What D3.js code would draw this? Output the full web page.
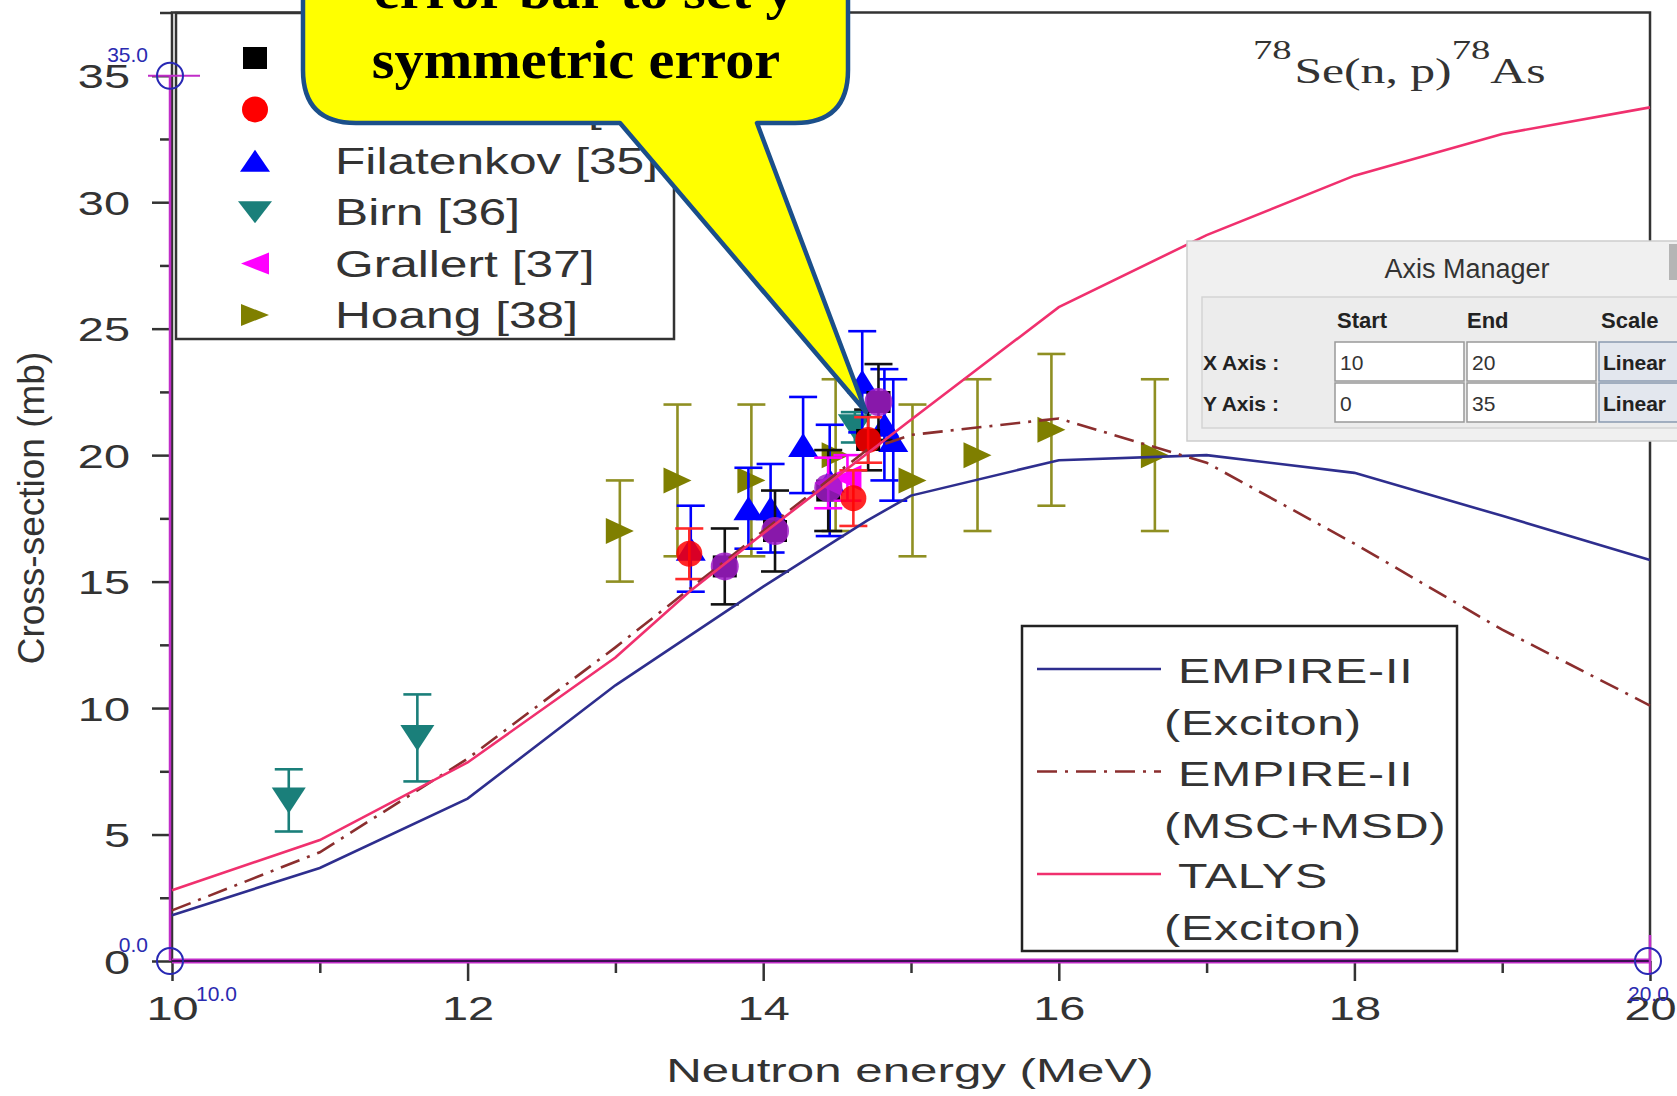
<!DOCTYPE html>
<html>
<head>
<meta charset="utf-8">
<script src="https://d3js.org/d3.v7.min.js"></script>
<style>
  body { margin: 0; background: #fff; overflow: hidden; }
  svg { display: block; font-family: "Liberation Sans", Arial, sans-serif; }
</style>
</head>
<body>
<script>
// ---- values ----
var xTicks = [10, 12, 14, 16, 18, 20];
var yTicks = [0, 5, 10, 15, 20, 25, 30, 35];

// model curves: neutron energy (MeV) / cross-section (mb)
var empExcE  = [10, 11, 12, 13, 14, 14.7, 15, 16, 17, 18, 19, 20];
var empExcXS = [1.81, 3.68, 6.42, 10.9, 14.8, 17.4, 18.4, 19.8, 20.0, 19.3, 17.6, 15.85];
var empMsdE  = [10, 11, 12, 13, 14, 14.7, 15, 16, 17, 18, 19, 20];
var empMsdXS = [2.0, 4.3, 8.0, 12.4, 17.0, 20.2, 20.8, 21.45, 19.7, 16.5, 13.1, 10.1];
var talysE   = [10, 11, 12, 13, 13.5, 14, 15, 16, 17, 18, 19, 20];
var talysXS  = [2.8, 4.78, 7.85, 12.0, 14.6, 16.9, 21.4, 25.85, 28.7, 31.05, 32.7, 33.75];

// measurements [E, sigma, error]
var squares    = [[13.74, 15.6, 1.5], [14.08, 17.0, 1.6], [14.44, 18.6, 1.6], [14.71, 20.6, 1.2], [14.78, 22.1, 1.5]];
var circles    = [[13.5, 16.1, 1.0], [14.61, 18.3, 1.1], [14.71, 20.6, 0.9]];
var filatenkov = [[13.51, 16.3, 1.7], [13.9, 17.9, 1.6], [14.05, 17.9, 1.75], [14.27, 20.4, 1.9],
                  [14.45, 19.0, 2.2], [14.67, 22.9, 2.0], [14.82, 21.2, 2.2], [14.88, 20.6, 2.4]];
var birn       = [[10.79, 6.35, 1.23], [11.66, 8.82, 1.72], [14.62, 21.1, 0.6]];
var grallert   = [[14.44, 18.9, 1.0], [14.57, 19.1, 0.9]];
var hoang      = [[13.03, 17.0, 2.0], [13.42, 19.0, 3.0], [13.92, 19.0, 3.0], [14.49, 20.0, 3.0],
                  [15.01, 19.0, 3.0], [15.45, 20.0, 3.0], [15.95, 21.0, 3.0], [16.65, 20.0, 3.0]];

// digitizer: picked points and axis calibration points
var picked     = [[13.74, 15.6], [14.08, 17.0], [14.44, 18.7], [14.78, 22.1]];
var calibPts   = [[10, 35], [10, 0], [20, 0]];

var legendNames = ["", "", "Filatenkov", "Birn", "Grallert", "Hoang"];
var legendRefs  = ["[33]", "[34]", "[35]", "[36]", "[37]", "[38]"];
var curveNames  = [["EMPIRE-II", "(Exciton)"], ["EMPIRE-II", "(MSC+MSD)"], ["TALYS", "(Exciton)"]];

var W = 1677, H = 1096;
var svg = d3.select("body").append("svg").attr("width", W).attr("height", H);

var x = d3.scaleLinear().domain([10, 20]).range([172, 1650]);
var y = d3.scaleLinear().domain([0, 37.5]).range([961, 12.5]);

var ink = "#333";

// stretched text, the figure is widened
function stext(parent, tx, ty, str, size, sx, anchor) {
  return parent.append("text")
    .attr("transform", "translate(" + tx + "," + ty + ") scale(" + sx + ",1)")
    .attr("text-anchor", anchor || "start")
    .style("font-size", size + "px")
    .attr("fill", ink)
    .text(str);
}

function markerPath(kind, w, h) {
  var a = w / 2, b = h / 2;
  if (kind === "up") return "M0," + (-b) + "L" + a + "," + b + "L" + (-a) + "," + b + "Z";
  if (kind === "down") return "M0," + b + "L" + a + "," + (-b) + "L" + (-a) + "," + (-b) + "Z";
  if (kind === "left") return "M" + (-a) + ",0L" + a + "," + (-b) + "L" + a + "," + b + "Z";
  if (kind === "right") return "M" + a + ",0L" + (-a) + "," + (-b) + "L" + (-a) + "," + b + "Z";
  if (kind === "square") return "M" + (-a) + "," + (-b) + "h" + w + "v" + h + "h" + (-w) + "Z";
  return d3.symbol(d3.symbolCircle, Math.PI * a * a)();
}

// ---- axes ----
var gy = svg.append("g").attr("transform", "translate(" + x(10) + ",0)")
  .call(d3.axisLeft(y).tickValues(yTicks).tickSize(20).tickSizeOuter(0));
gy.select(".domain").remove();
gy.attr("font-size", 34).attr("font-family", null);
gy.selectAll(".tick line").attr("stroke", ink).attr("stroke-width", 2.5);
gy.selectAll(".tick text").attr("x", 0).attr("dy", "0.36em").attr("fill", ink)
  .attr("transform", "translate(-42,0) scale(1.38,1)");

var gym = svg.append("g").attr("transform", "translate(" + x(10) + ",0)")
  .call(d3.axisLeft(y).tickValues(d3.range(2.5, 38, 5)).tickSize(12).tickFormat(""));
gym.select(".domain").remove();
gym.selectAll(".tick line").attr("stroke", ink).attr("stroke-width", 2.5);

var gx = svg.append("g").attr("transform", "translate(0," + y(0) + ")")
  .call(d3.axisBottom(x).tickValues(xTicks).tickSize(20).tickSizeOuter(0));
gx.select(".domain").remove();
gx.attr("font-size", 34).attr("font-family", null);
gx.selectAll(".tick line").attr("stroke", ink).attr("stroke-width", 2.5);
gx.selectAll(".tick text").attr("y", 0).attr("dy", 0).attr("fill", ink)
  .attr("transform", "translate(0,59) scale(1.38,1)");

var gxm = svg.append("g").attr("transform", "translate(0," + y(0) + ")")
  .call(d3.axisBottom(x).tickValues([11, 13, 15, 17, 19]).tickSize(12).tickFormat(""));
gxm.select(".domain").remove();
gxm.selectAll(".tick line").attr("stroke", ink).attr("stroke-width", 2.5);

// frame
svg.append("rect")
  .attr("x", x(10)).attr("y", y(37.5))
  .attr("width", x(20) - x(10)).attr("height", y(0) - y(37.5))
  .attr("fill", "none").attr("stroke", ink).attr("stroke-width", 2.5);

// axis titles
svg.append("text")
  .attr("transform", "translate(44,508) rotate(-90)")
  .attr("text-anchor", "middle").style("font-size", "37px").attr("fill", ink)
  .text("Cross-section (mb)");
stext(svg, 910, 1082, "Neutron energy (MeV)", 34, 1.45, "middle");

// reaction label
var rt = svg.append("text")
  .attr("transform", "translate(1253,83) scale(1.38,1)")
  .attr("fill", ink).style("font-family", "'Liberation Serif', 'Times New Roman', serif");
rt.append("tspan").style("font-size", "28px").attr("dy", -24).text("78");
rt.append("tspan").style("font-size", "36px").attr("dy", 24).attr("dx", 2).text("Se(n, p)");
rt.append("tspan").style("font-size", "28px").attr("dy", -24).text("78");
rt.append("tspan").style("font-size", "36px").attr("dy", 24).text("As");

// ---- measured points (styles, in legend order) ----
var sSquares  = { data: squares,    kind: "square", w: 24, h: 22, fill: "#000000", bar: "#111111" };
var sCircles  = { data: circles,    kind: "circle", w: 26, h: 26, fill: "#ff0000", bar: "#ff2a2a" };
var sFilat    = { data: filatenkov, kind: "up",     w: 30, h: 24, fill: "#0000ff", bar: "#0000ff" };
var sBirn     = { data: birn,       kind: "down",   w: 34, h: 26, fill: "#1a7f7a", bar: "#1a7f7a" };
var sGrallert = { data: grallert,   kind: "left",   w: 28, h: 26, fill: "#ff00ff", bar: "#ff00ff" };
var sHoang    = { data: hoang,      kind: "right",  w: 28, h: 26, fill: "#7f7f00", bar: "#8f8f22" };
var legendSeries = [sSquares, sCircles, sFilat, sBirn, sGrallert, sHoang];
var drawOrder = [sHoang, sBirn, sFilat, sSquares, sGrallert, sCircles];

var pts = svg.append("g");
drawOrder.forEach(function (s) {
  var g = pts.append("g");
  var eb = g.selectAll(".eb").data(s.data).enter().append("g")
    .attr("stroke", s.bar).attr("stroke-width", 2.6);
  eb.append("line")
    .attr("x1", function (d) { return x(d[0]); }).attr("x2", function (d) { return x(d[0]); })
    .attr("y1", function (d) { return y(d[1] - d[2]); }).attr("y2", function (d) { return y(d[1] + d[2]); });
  [-1, 1].forEach(function (sg) {
    eb.append("line")
      .attr("x1", function (d) { return x(d[0]) - 14; }).attr("x2", function (d) { return x(d[0]) + 14; })
      .attr("y1", function (d) { return y(d[1] + sg * d[2]); }).attr("y2", function (d) { return y(d[1] + sg * d[2]); });
  });
  g.selectAll(".mk").data(s.data).enter().append("path")
    .attr("d", markerPath(s.kind, s.w, s.h))
    .attr("transform", function (d) { return "translate(" + x(d[0]) + "," + y(d[1]) + ")"; })
    .attr("fill", s.fill).attr("fill-opacity", s.kind === "circle" ? 0.85 : 1);
});

// digitizer dots
pts.selectAll(".pk").data(picked).enter().append("circle")
  .attr("cx", function (d) { return x(d[0]); }).attr("cy", function (d) { return y(d[1]); })
  .attr("r", 14).attr("fill", "#a01cc8").attr("fill-opacity", 0.85);

// ---- model curves ----
var curves = [
  { e: empExcE, s: empExcXS, color: "#2e2e8e", dash: null },
  { e: empMsdE, s: empMsdXS, color: "#8b2e2e", dash: "20,8,3,8" },
  { e: talysE,  s: talysXS,  color: "#f0306e", dash: null }
];
var line = d3.line().x(function (d) { return x(d[0]); }).y(function (d) { return y(d[1]); });
curves.forEach(function (c) {
  svg.append("path")
    .attr("d", line(d3.zip(c.e, c.s)))
    .attr("fill", "none").attr("stroke", c.color).attr("stroke-width", 2.6)
    .attr("stroke-dasharray", c.dash);
});

// ---- legend: symbols ----
var lg = svg.append("g");
lg.append("rect").attr("x", 176).attr("y", 13).attr("width", 498).attr("height", 326)
  .attr("fill", "#fff").attr("stroke", ink).attr("stroke-width", 2.5);
legendSeries.forEach(function (s, i) {
  var sy = 58 + i * 51.4;
  lg.append("path").attr("d", markerPath(s.kind, s.kind === "circle" ? 26 : s.w, s.kind === "circle" ? 26 : 22))
    .attr("transform", "translate(255," + sy + ")").attr("fill", s.fill);
  if (legendNames[i]) {
    stext(lg, 335, sy + 13, legendNames[i] + " " + legendRefs[i], 36, 1.38);
  } else {
    stext(lg, 588, sy + 13, legendRefs[i], 36, 1.38);
  }
});

// ---- legend: curves ----
var lc = svg.append("g");
lc.append("rect").attr("x", 1022).attr("y", 626).attr("width", 435).attr("height", 325)
  .attr("fill", "#fff").attr("stroke", "#222").attr("stroke-width", 2.5);
curves.forEach(function (c, i) {
  var ly = 669 + i * 102.5;
  lc.append("line").attr("x1", 1037).attr("x2", 1161).attr("y1", ly).attr("y2", ly)
    .attr("stroke", c.color).attr("stroke-width", 2.6).attr("stroke-dasharray", c.dash);
  stext(lc, 1178, ly + 14, curveNames[i][0], 35, 1.38).attr("letter-spacing", 0.6);
  stext(lc, 1164, ly + 66, curveNames[i][1], 35, 1.38).attr("letter-spacing", 0.6);
});

// ---- digitizer axis overlay ----
var ov = svg.append("g");
ov.append("line").attr("x1", x(10)).attr("x2", x(20)).attr("y1", y(0)).attr("y2", y(0))
  .attr("stroke", "#c02cc8").attr("stroke-width", 5);
ov.append("line").attr("x1", x(10)).attr("x2", x(20)).attr("y1", y(0)).attr("y2", y(0))
  .attr("stroke", "#3a1050").attr("stroke-width", 2);
ov.append("line").attr("x1", x(10) - 2).attr("x2", x(10) - 2).attr("y1", y(35)).attr("y2", y(0))
  .attr("stroke", "#c02cc8").attr("stroke-width", 2.5);
ov.append("line").attr("x1", x(10) - 24).attr("x2", x(10) + 28).attr("y1", y(35)).attr("y2", y(35))
  .attr("stroke", "#c02cc8").attr("stroke-width", 2);
ov.append("line").attr("x1", x(20)).attr("x2", x(20)).attr("y1", y(0) - 26).attr("y2", y(0) + 14)
  .attr("stroke", "#c02cc8").attr("stroke-width", 2.5);
ov.selectAll(".cal").data(calibPts).enter().append("circle")
  .attr("cx", function (d) { return x(d[0]) - 2; }).attr("cy", function (d) { return y(d[1]); })
  .attr("r", 13).attr("fill", "none").attr("stroke", "#2828b4").attr("stroke-width", 2);
var calText = [
  { t: "35.0", px: x(10) - 24, py: y(35) - 14, a: "end" },
  { t: "0.0",  px: x(10) - 24, py: y(0) - 9,   a: "end" },
  { t: "10.0", px: x(10) + 24, py: y(0) + 40,  a: "start" },
  { t: "20.0", px: x(20) - 22, py: y(0) + 40,  a: "start" }
];
calText.forEach(function (c) {
  ov.append("text").attr("x", c.px).attr("y", c.py).attr("text-anchor", c.a)
    .style("font-size", "21px").attr("fill", "#2a2ab0").text(c.t);
});

// ---- callout ----
var co = svg.append("g");
co.append("path")
  .attr("d", "M303,-60 L303,70 Q303,123 356,123 L620,123 L866,412 L757,123 L795,123 Q848,123 848,70 L848,-60 Z")
  .attr("fill", "#ffff00").attr("stroke", "#1b4f8a").attr("stroke-width", 4.5).attr("stroke-linejoin", "round");
stext(co, 594, 8, "error bar to set y-", 54, 1.08, "middle")
  .attr("fill", "#000").style("font-weight", "bold").style("font-family", "'Liberation Serif', serif");
stext(co, 576, 78, "symmetric error", 54, 1.08, "middle")
  .attr("fill", "#000").style("font-weight", "bold").style("font-family", "'Liberation Serif', serif");

// ---- axis manager panel ----
var am = svg.append("g").style("font-family", "'Liberation Sans', Arial, sans-serif");
am.append("rect").attr("x", 1187).attr("y", 241).attr("width", 520).attr("height", 200)
  .attr("fill", "#f0f0f0").attr("stroke", "#cdcdcd").attr("stroke-width", 1.5);
am.append("rect").attr("x", 1669).attr("y", 244).attr("width", 8).attr("height", 36).attr("fill", "#b5b5b5");
am.append("text").attr("x", 1467).attr("y", 278).attr("text-anchor", "middle")
  .style("font-size", "27px").attr("fill", "#333").text("Axis Manager");
am.append("rect").attr("x", 1202).attr("y", 297).attr("width", 500).attr("height", 131)
  .attr("fill", "#ececec").attr("stroke", "#d4d4d4").attr("stroke-width", 1.5);
[["Start", 1337], ["End", 1467], ["Scale", 1601]].forEach(function (h) {
  am.append("text").attr("x", h[1]).attr("y", 328).style("font-size", "22px")
    .style("font-weight", "bold").attr("fill", "#222").text(h[0]);
});
var amRows = [["X Axis :", "10", "20", 342], ["Y Axis :", "0", "35", 383]];
amRows.forEach(function (r) {
  var top = r[3];
  am.append("text").attr("x", 1203).attr("y", top + 28).style("font-size", "21px")
    .style("font-weight", "bold").attr("fill", "#222").text(r[0]);
  [[1335, r[1]], [1467, r[2]]].forEach(function (b) {
    am.append("rect").attr("x", b[0]).attr("y", top).attr("width", 129).attr("height", 39)
      .attr("fill", "#fff").attr("stroke", "#999").attr("stroke-width", 1.5);
    am.append("text").attr("x", b[0] + 5).attr("y", top + 28).style("font-size", "21px")
      .attr("fill", "#333").text(b[1]);
  });
  am.append("rect").attr("x", 1599).attr("y", top).attr("width", 90).attr("height", 39)
    .attr("fill", "#e3e7ee").attr("stroke", "#8a9ab0").attr("stroke-width", 1.5);
  am.append("text").attr("x", 1603).attr("y", top + 28).style("font-size", "21px")
    .style("font-weight", "bold").attr("fill", "#222").text("Linear");
});
</script>
</body>
</html>
